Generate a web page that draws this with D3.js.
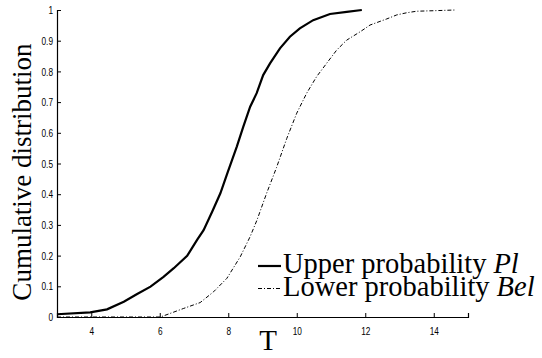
<!DOCTYPE html>
<html>
<head>
<meta charset="UTF-8" />
<script src="https://d3js.org/d3.v7.min.js"></script>
<style>
  body { margin: 0; background: #fff; }
</style>
</head>
<body>
<svg id="chart" width="542" height="358"></svg>
<script>
// upper probability Pl (solid)
var tUpper = [3, 3.97, 4.46, 4.95, 5.34, 5.73, 6.11, 6.41, 6.8, 7.09, 7.28, 7.53, 7.77, 7.98, 8.11, 8.25, 8.44, 8.64, 8.83, 9.02, 9.22, 9.51, 9.8, 10.09, 10.48, 10.97, 11.46, 11.9]
var pUpper = [0.009, 0.015, 0.025, 0.05, 0.075, 0.099, 0.131, 0.159, 0.199, 0.251, 0.283, 0.343, 0.403, 0.47, 0.511, 0.555, 0.62, 0.685, 0.729, 0.788, 0.826, 0.875, 0.913, 0.94, 0.967, 0.987, 0.994, 1.0]
// lower probability Bel (dash-dot)
var tLower = [3, 6.02, 6.7, 7.18, 7.57, 7.96, 8.35, 8.64, 8.84, 9.12, 9.41, 9.71, 10.0, 10.29, 10.58, 10.87, 11.17, 11.46, 11.85, 12.14, 12.63, 12.92, 13.21, 13.5, 14.09, 14.62]
var pLower = [0, 0, 0.028, 0.047, 0.082, 0.126, 0.196, 0.262, 0.316, 0.403, 0.487, 0.582, 0.664, 0.729, 0.783, 0.826, 0.87, 0.902, 0.929, 0.951, 0.971, 0.984, 0.991, 0.996, 0.998, 1.0]
var xTicks = [4, 6, 8, 10, 12, 14]
var yTicks = [0, 0.1, 0.2, 0.3, 0.4, 0.5, 0.6, 0.7, 0.8, 0.9, 1]
var legendLabels = [["Upper probability", "Pl"], ["Lower probability", "Bel"]]

var serif = "Liberation Serif"
var svg = d3.select("#chart")
var x = d3.scaleLinear().domain([3, 15]).range([57, 468])
var y = d3.scaleLinear().domain([0, 1]).range([317, 10])

// axes, ticks inside
var xAxis = d3.axisBottom(x).tickValues(xTicks).tickSize(-4).tickPadding(10).tickFormat(d3.format("d"))
var gx = svg.append("g").attr("transform", "translate(0,317)").call(xAxis)
var yAxis = d3.axisLeft(y).tickValues(yTicks).tickSize(-4).tickPadding(4).tickFormat(d => d3.format("")(d))
var gy = svg.append("g").attr("transform", "translate(57,0)").call(yAxis)
svg.selectAll(".domain").attr("stroke", "#000").attr("stroke-width", 1.2)
svg.selectAll(".tick line").attr("stroke", "#000")
// narrow tick labels (squeeze horizontally)
gx.selectAll(".tick text").attr("font-family", "Liberation Sans").attr("font-size", 11.5).attr("fill", "#000")
  .attr("transform", "scale(0.72,1)")
gy.selectAll(".tick text").attr("font-family", "Liberation Sans").attr("font-size", 11.5).attr("fill", "#000")
  .attr("x", 0).attr("transform", "translate(-4,0) scale(0.72,1)")

var line = d3.line().x(d => x(d[0])).y(d => y(d[1]))

svg.append("path")
  .attr("d", line(d3.zip(tLower, pLower)))
  .attr("fill", "none").attr("stroke", "#000").attr("stroke-width", 1)
  .attr("stroke-dasharray", "4,2,1,2")

svg.append("path")
  .attr("d", line(d3.zip(tUpper, pUpper)))
  .attr("fill", "none").attr("stroke", "#000").attr("stroke-width", 2.2)

// axis labels
svg.append("text")
  .attr("transform", "translate(31,172) rotate(-90)")
  .attr("text-anchor", "middle").attr("font-family", serif).attr("font-size", 27)
  .text("Cumulative distribution")
svg.append("text")
  .attr("x", 268).attr("y", 350).attr("text-anchor", "middle")
  .attr("font-family", serif).attr("font-size", 29)
  .text("T")

// legend
var leg = svg.append("g")
legendLabels.forEach((lab, i) => {
  var yy = 273 + i * 22.5
  leg.append("line").attr("x1", 258).attr("x2", 281).attr("y1", yy - 7).attr("y2", yy - 7)
    .attr("stroke", "#000").attr("stroke-width", i == 0 ? 2.2 : 1)
    .attr("stroke-dasharray", i == 0 ? null : "4,2,1,2")
  var t = leg.append("text").attr("x", 283).attr("y", yy)
    .attr("font-family", serif).attr("font-size", 28.5).text(lab[0])
  var w = t.node().getComputedTextLength()
  leg.append("text").attr("x", 283 + w + 7).attr("y", yy)
    .attr("font-family", serif).attr("font-size", 28.5).attr("font-style", "italic").text(lab[1])
})
</script>
</body>
</html>
